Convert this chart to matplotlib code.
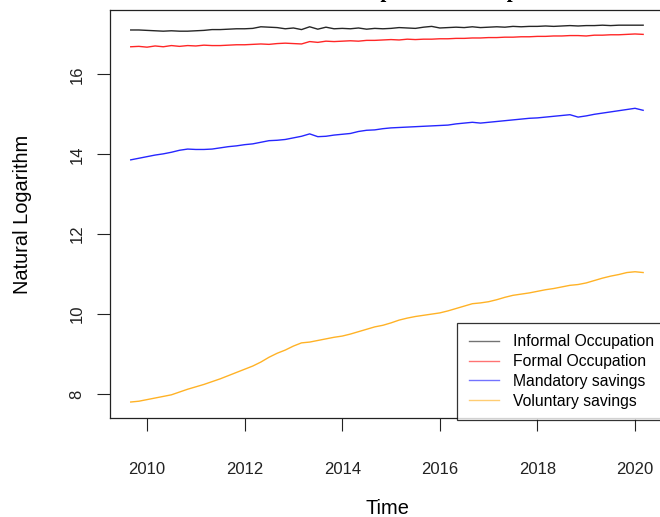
import numpy as np
import matplotlib
matplotlib.use("Agg")
from matplotlib import pyplot as plt

# monthly-ish series (every 2 months), starting Sep 2009
start_year = 2009 + 8 / 12
step = 2 / 12

informal = [17.11, 17.11, 17.10, 17.09, 17.08, 17.09, 17.08, 17.08, 17.09, 17.10,
            17.12, 17.12, 17.13, 17.14, 17.14, 17.15, 17.19, 17.18, 17.17, 17.14,
            17.16, 17.12, 17.19, 17.13, 17.18, 17.14, 17.15, 17.14, 17.16, 17.13,
            17.15, 17.14, 17.15, 17.17, 17.16, 17.15, 17.18, 17.20, 17.16, 17.17,
            17.18, 17.17, 17.19, 17.17, 17.18, 17.19, 17.18, 17.20, 17.19, 17.20,
            17.20, 17.21, 17.20, 17.21, 17.22, 17.21, 17.22, 17.22, 17.23, 17.22,
            17.23, 17.23, 17.23, 17.23]
formal = [16.69, 16.70, 16.68, 16.71, 16.69, 16.72, 16.70, 16.72, 16.71, 16.73,
          16.72, 16.72, 16.73, 16.74, 16.74, 16.75, 16.76, 16.75, 16.77, 16.78,
          16.77, 16.76, 16.82, 16.80, 16.83, 16.82, 16.83, 16.84, 16.83, 16.85,
          16.85, 16.86, 16.87, 16.86, 16.88, 16.87, 16.88, 16.88, 16.89, 16.89,
          16.90, 16.90, 16.91, 16.91, 16.92, 16.92, 16.93, 16.93, 16.94, 16.94,
          16.95, 16.95, 16.96, 16.96, 16.97, 16.97, 16.96, 16.98, 16.98, 16.99,
          16.99, 17.00, 17.01, 17.00]
mandatory = [13.86, 13.90, 13.94, 13.98, 14.01, 14.05, 14.10, 14.13, 14.12, 14.12,
             14.13, 14.16, 14.19, 14.21, 14.24, 14.26, 14.30, 14.34, 14.35, 14.37,
             14.41, 14.45, 14.51, 14.44, 14.45, 14.48, 14.50, 14.52, 14.57, 14.60,
             14.61, 14.64, 14.66, 14.67, 14.68, 14.69, 14.70, 14.71, 14.72, 14.73,
             14.76, 14.78, 14.80, 14.78, 14.80, 14.82, 14.84, 14.86, 14.88, 14.90,
             14.91, 14.93, 14.95, 14.97, 14.99, 14.93, 14.96, 15.00, 15.03, 15.06,
             15.09, 15.12, 15.15, 15.10]
voluntary = [7.80, 7.82, 7.86, 7.90, 7.94, 7.98, 8.05, 8.12, 8.18, 8.24,
             8.31, 8.38, 8.46, 8.54, 8.62, 8.70, 8.80, 8.92, 9.02, 9.10,
             9.20, 9.28, 9.30, 9.34, 9.38, 9.42, 9.45, 9.50, 9.56, 9.62,
             9.68, 9.72, 9.78, 9.85, 9.90, 9.94, 9.97, 10.00, 10.03, 10.08,
             10.14, 10.20, 10.26, 10.28, 10.31, 10.36, 10.42, 10.47, 10.50, 10.53,
             10.57, 10.61, 10.64, 10.68, 10.72, 10.74, 10.78, 10.84, 10.90, 10.95,
             10.99, 11.04, 11.06, 11.04]

labels = ["Informal Occupation", "Formal Occupation", "Mandatory savings", "Voluntary savings"]
colors = ["black", "red", "blue", "orange"]
series = [informal, formal, mandatory, voluntary]

plt.rcParams['font.family'] = ['Liberation Sans', 'DejaVu Sans']

W, H = 660, 517
fig = plt.figure(figsize=(W / 100, H / 100), dpi=100)
ax = fig.add_axes([110 / W, 1 - 418 / H, (664 - 110) / W, (418 - 10) / H])

t = start_year + step * np.arange(len(informal))
for s, c, lab in zip(series, colors, labels):
    ax.plot(t, s, color=c, lw=1.0, alpha=0.85, label=lab)

ax.set_xlim(2009.242, 2020.594)
ax.set_ylim(7.40, 17.61)
ax.set_xticks([2010, 2012, 2014, 2016, 2018, 2020])
ax.set_yticks([8, 10, 12, 14, 16])
ax.tick_params(direction='out', length=9.4, width=0.8, labelsize=12, colors='#222222')
ax.tick_params(axis='x', pad=22)
ax.tick_params(axis='y', pad=9, labelrotation=90)
for lab in ax.get_yticklabels():
    lab.set_va('center')
for sp in ax.spines.values():
    sp.set_linewidth(0.9)
    sp.set_color('#222222')

fig.text(23 / W, 1 - 214 / H, "Natural Logarithm", rotation=90, ha='center', va='center', fontsize=14.4)
fig.text(387 / W, 1 - 509 / H, "Time", ha='center', va='center', fontsize=14.4)

# title mostly cut off by the top edge, only descenders show
fig.text(334 / W, 1 + 3.5 / H, "Occupation and Capital", ha='left', va='baseline',
         fontsize=15, fontweight='bold', family='Liberation Serif')

leg = ax.legend(loc='upper left', bbox_to_anchor=(457 / W, 1 - 322.7 / H),
                bbox_transform=fig.transFigure, fontsize=11.3, frameon=True,
                fancybox=False, borderpad=0.75, labelspacing=0.3,
                handlelength=1.9, handletextpad=0.9, borderaxespad=0)
leg.get_frame().set_edgecolor('black')
leg.get_frame().set_linewidth(0.9)
for h in leg.get_lines():
    h.set_alpha(0.55)

fig.savefig("out.png", dpi=100)
